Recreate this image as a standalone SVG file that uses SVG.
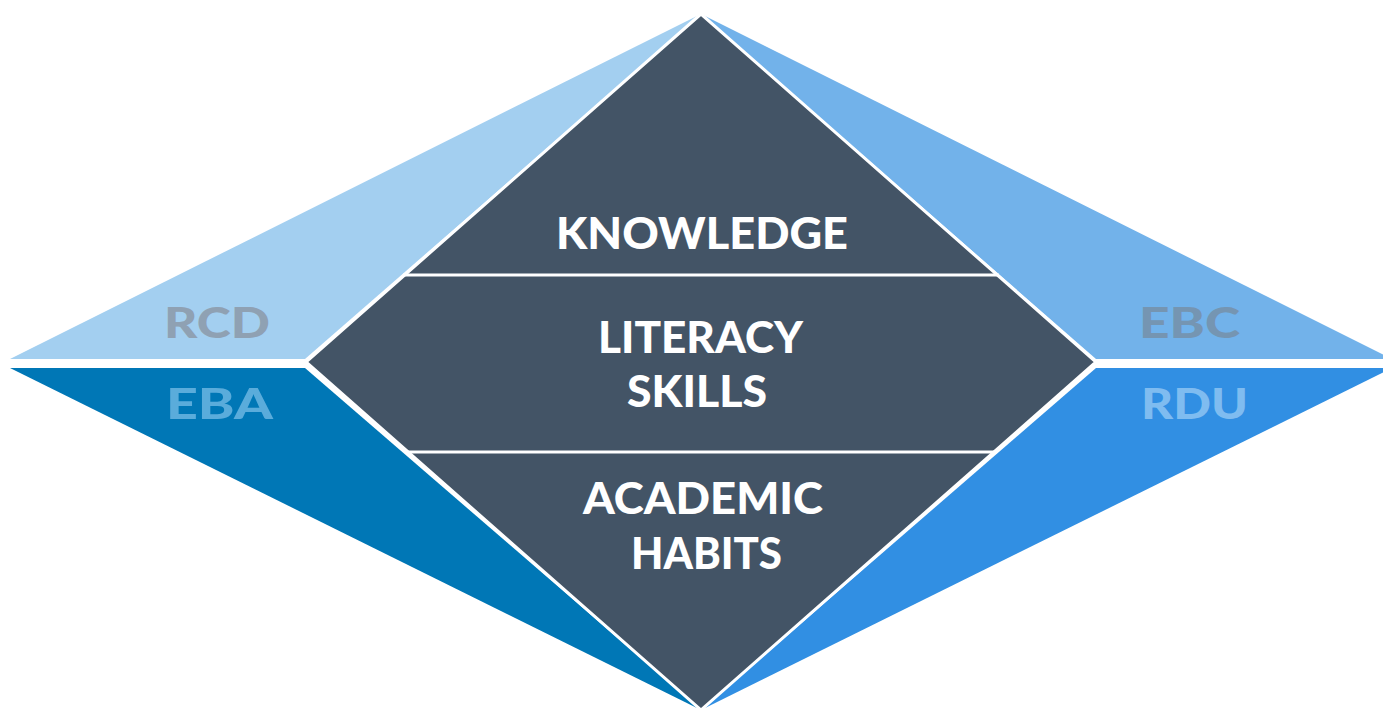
<svg xmlns="http://www.w3.org/2000/svg" width="1383" height="708" viewBox="0 0 1383 708">
<style>
.lbl{font-family:Lato,"Liberation Sans",sans-serif;font-weight:900;text-anchor:start}
.main{fill:#ffffff;font-size:44px}
.side{font-size:42px}
.div{stroke:#ffffff;stroke-width:3}
</style>
<rect width="1383" height="708" fill="#ffffff"/>
<g id="rcd">
<polygon points="701,14 10,359 305,359" fill="#A3CFF0"/>
<text class="lbl side" x="164" y="338" fill="#8FA1B3" textLength="106" lengthAdjust="spacingAndGlyphs">RCD</text>
</g>
<g id="eba">
<polygon points="10,368 305,368 701,710" fill="#0077B6"/>
<text class="lbl side" x="166" y="419" fill="#5AACDB" textLength="107" lengthAdjust="spacingAndGlyphs">EBA</text>
</g>
<g id="ebc">
<polygon points="701,14 1392,359 1096,359" fill="#72B2EA"/>
<text class="lbl side" x="1139" y="338" fill="#7595B2" textLength="101" lengthAdjust="spacingAndGlyphs">EBC</text>
</g>
<g id="rdu">
<polygon points="1392,368 1096,368 701,710" fill="#318FE3"/>
<text class="lbl side" x="1141" y="419" fill="#7FBCF0" textLength="107" lengthAdjust="spacingAndGlyphs">RDU</text>
</g>
<g id="diamond">
<polygon points="701,14 306,362 701,710 1096,362" fill="#435466" stroke="#ffffff" stroke-width="3" stroke-linejoin="miter"/>
</g>
<g id="connectors">
<line class="div" x1="403" y1="275" x2="999" y2="275"/>
<line class="div" x1="405" y1="452" x2="997" y2="452"/>
</g>
<g id="knowledge">
<text class="lbl main" x="556" y="249" textLength="292" lengthAdjust="spacingAndGlyphs">KNOWLEDGE</text>
</g>
<g id="literacy">
<text class="lbl main" x="598" y="353" textLength="205" lengthAdjust="spacingAndGlyphs">LITERACY</text>
<text class="lbl main" x="627" y="407" textLength="140" lengthAdjust="spacingAndGlyphs">SKILLS</text>
</g>
<g id="academic">
<text class="lbl main" x="583" y="514" textLength="240" lengthAdjust="spacingAndGlyphs">ACADEMIC</text>
<text class="lbl main" x="631" y="569" textLength="151" lengthAdjust="spacingAndGlyphs">HABITS</text>
</g>
</svg>
